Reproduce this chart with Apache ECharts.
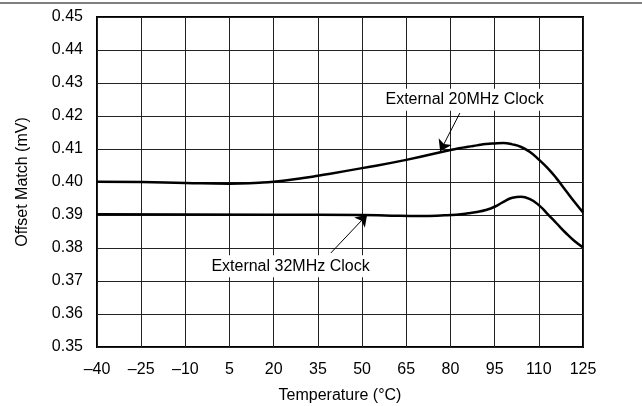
<!DOCTYPE html>
<html lang="en">
<head>
<meta charset="UTF-8">
<title>Offset Match vs Temperature</title>
<script src="https://cdn.jsdelivr.net/npm/echarts@6/dist/echarts.min.js"></script>
<style>
  html, body { margin: 0; padding: 0; background: #fff; }
</style>
</head>
<body>
<div id="chart" style="width: 642px; height: 406px;"></div>
<script type="text/javascript">
  // x ticks: -40 ... 125 step 15
  var xMin = -40, xMax = 125, xStep = 15;

  // External 20MHz clock
  var temp20 = [-40, -25, -10, 5, 15, 20, 30, 35, 50, 65, 80, 83, 86, 89, 92, 95, 98, 101, 104, 107, 110, 113, 116, 119, 122, 125];
  var offset20 = [0.4001, 0.4000, 0.3997, 0.3995, 0.3998, 0.4001, 0.4012, 0.4019, 0.4042, 0.4067, 0.4097, 0.4102, 0.4107, 0.4111, 0.4115, 0.4117, 0.4118, 0.4114, 0.4106, 0.4091, 0.4068, 0.4042, 0.4011, 0.3976, 0.3941, 0.3908];

  // External 32MHz clock
  var temp32 = [-40, 20, 50, 60, 70, 78, 82, 86, 89, 92, 95, 98, 101, 104, 107, 110, 113, 116, 119, 122, 125];
  var offset32 = [0.3902, 0.3901, 0.3900, 0.3898, 0.3897, 0.3899, 0.3901, 0.3905, 0.3909, 0.3915, 0.3925, 0.3940, 0.3952, 0.3955, 0.3948, 0.3930, 0.3903, 0.3875, 0.3847, 0.3822, 0.3802];

  // callouts: label centre, arrow start, arrow tip  (temperature, mV)
  var label20 = 'External 20MHz Clock';
  var label20At = [84.8, 0.4249], arrow20From = [83.2, 0.4209], arrow20To = [76.5, 0.4093];
  var label32 = 'External 32MHz Clock';
  var label32At = [25.7, 0.3745], arrow32From = [39.4, 0.3785], arrow32To = [51.7, 0.3901];

  // the value axis is shifted so that its min (0) is a multiple of the interval
  var sx = function (t) { return t - xMin; };
  var pts = function (ts, vs) {
    var out = [];
    for (var i = 0; i < ts.length; i++) out.push([sx(ts[i]), vs[i]]);
    return out;
  };
  var c = function (p) { return [sx(p[0]), p[1]]; };

  var font = 'Liberation Sans, Arial, Helvetica, sans-serif';
  var fs = 16;

  var calloutLabel = {
    show: true, position: 'inside', color: '#000', fontFamily: font, fontSize: fs,
    backgroundColor: '#fff', padding: [3, 4]
  };
  var arrowStyle = { color: '#000', width: 1, type: 'solid' };

  var chart = echarts.init(document.getElementById('chart'), null, { renderer: 'canvas' });
  var option = {
    animation: false,
    backgroundColor: '#fff',
    grid: {
      left: 97, right: 59, top: 17, bottom: 59, outerBoundsMode: 'none',
      show: true, borderColor: '#000', borderWidth: 2, backgroundColor: 'transparent'
    },
    xAxis: {
      type: 'value', min: 0, max: xMax - xMin, interval: xStep,
      name: 'Temperature (°C)', nameLocation: 'middle', nameGap: 41,
      nameTextStyle: { color: '#000', fontFamily: font, fontSize: fs },
      axisLine: { show: false },
      axisTick: { show: false },
      axisLabel: {
        color: '#000', fontFamily: font, fontSize: fs, margin: 15,
        formatter: function (v) { var t = v + xMin; return t < 0 ? '\u2013' + Math.abs(t) : String(t); }
      },
      splitLine: { show: true, lineStyle: { color: '#222', width: 1 } }
    },
    yAxis: {
      type: 'value', min: 0.35, max: 0.45, interval: 0.01,
      name: 'Offset Match (mV)', nameLocation: 'middle', nameGap: 66,
      nameTextStyle: { color: '#000', fontFamily: font, fontSize: fs },
      axisLine: { show: false },
      axisTick: { show: false },
      axisLabel: {
        color: '#000', fontFamily: font, fontSize: fs, margin: 14,
        formatter: function (v) { return v.toFixed(2); }
      },
      splitLine: { show: true, lineStyle: { color: '#222', width: 1 } }
    },
    graphic: [{
      type: 'line', silent: true,
      shape: { x1: 0, y1: 3, x2: 642, y2: 3 },
      style: { stroke: '#000', lineWidth: 1 }
    }],
    series: [
      {
        name: label20, type: 'line', smooth: 0.5, symbol: 'none',
        lineStyle: { color: '#000', width: 2.5 },
        data: pts(temp20, offset20),
        markLine: {
          silent: true, symbol: ['none', 'arrow'], symbolSize: 11,
          label: { show: false }, lineStyle: arrowStyle,
          data: [[{ coord: c(arrow20From) }, { coord: c(arrow20To) }]]
        },
        markPoint: {
          silent: true, symbol: 'circle', symbolSize: 1,
          itemStyle: { color: 'rgba(0,0,0,0)' },
          label: Object.assign({ formatter: label20 }, calloutLabel),
          data: [{ coord: c(label20At) }]
        }
      },
      {
        name: label32, type: 'line', smooth: 0.5, symbol: 'none',
        lineStyle: { color: '#000', width: 2.5 },
        data: pts(temp32, offset32),
        markLine: {
          silent: true, symbol: ['none', 'arrow'], symbolSize: 11,
          label: { show: false }, lineStyle: arrowStyle,
          data: [[{ coord: c(arrow32From) }, { coord: c(arrow32To) }]]
        },
        markPoint: {
          silent: true, symbol: 'circle', symbolSize: 1,
          itemStyle: { color: 'rgba(0,0,0,0)' },
          label: Object.assign({ formatter: label32 }, calloutLabel),
          data: [{ coord: c(label32At) }]
        }
      }
    ]
  };
  chart.setOption(option);
</script>
</body>
</html>
